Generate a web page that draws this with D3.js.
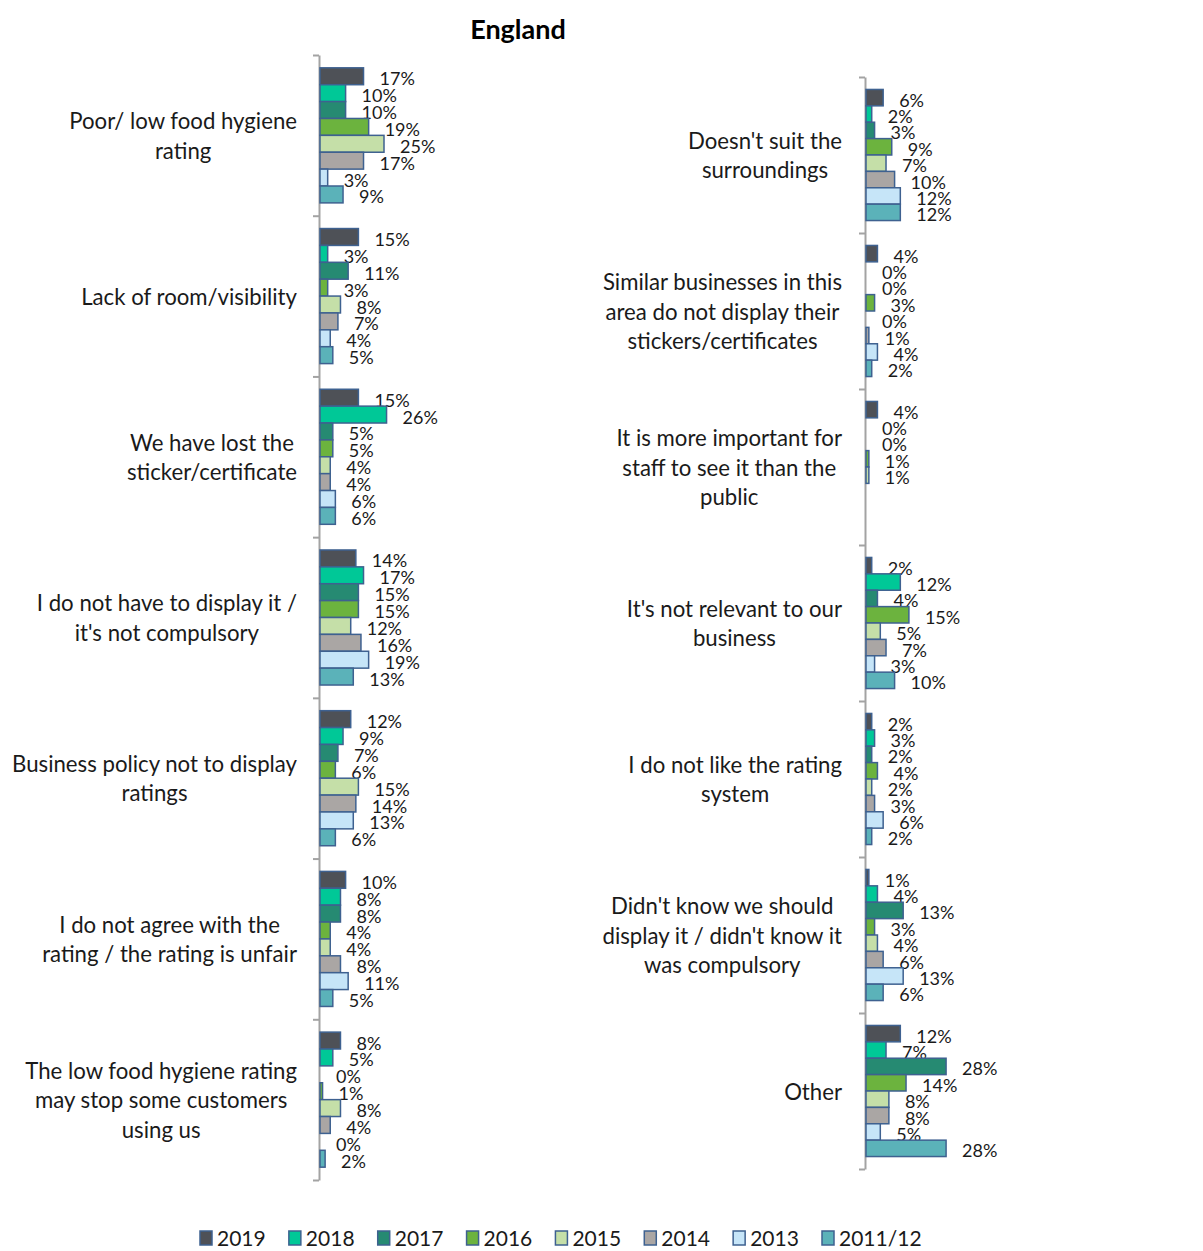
<!DOCTYPE html>
<html>
<head>
<meta charset="utf-8">
<script src="https://cdn.jsdelivr.net/npm/d3@7"></script>
<style>
  html, body { margin: 0; padding: 0; background: #ffffff; }
  svg { display: block; }
  text { font-family: Lato, "Open Sans", sans-serif; fill: #1a1a1a; }
</style>
</head>
<body>
<svg id="chart" width="1203" height="1251"></svg>
<script>
// Survey years (series), in drawing order within each category
const years = ["2019", "2018", "2017", "2016", "2015", "2014", "2013", "2011/12"];
const yearColors = ["#4e5157", "#00c897", "#268a72", "#6cb33e", "#c5dfa8", "#aaa6a4", "#c6e5f8", "#5bb2b9"];

// Left panel: category labels (one entry per wrapped line) and percentages per year
const leftCategories = [
  ["Poor/ low food hygiene", "rating"],
  ["Lack of room/visibility"],
  ["We have lost the", "sticker/certificate"],
  ["I do not have to display it /", "it's not compulsory"],
  ["Business policy not to display", "ratings"],
  ["I do not agree with the", "rating / the rating is unfair"],
  ["The low food hygiene rating", "may stop some customers", "using us"]
];
const leftValues = [
  [17, 10, 10, 19, 25, 17, 3, 9],
  [15, 3, 11, 3, 8, 7, 4, 5],
  [15, 26, 5, 5, 4, 4, 6, 6],
  [14, 17, 15, 15, 12, 16, 19, 13],
  [12, 9, 7, 6, 15, 14, 13, 6],
  [10, 8, 8, 4, 4, 8, 11, 5],
  [8, 5, 0, 1, 8, 4, 0, 2]
];

// Right panel: category labels and percentages per year (null = not asked that year)
const rightCategories = [
  ["Doesn't suit the", "surroundings"],
  ["Similar businesses in this", "area do not display their", "stickers/certificates"],
  ["It is more important for", "staff to see it than the", "public"],
  ["It's not relevant to our", "business"],
  ["I do not like the rating", "system"],
  ["Didn't know we should", "display it / didn't know it", "was compulsory"],
  ["Other"]
];
const rightValues = [
  [6, 2, 3, 9, 7, 10, 12, 12],
  [4, 0, 0, 3, 0, 1, 4, 2],
  [4, 0, 0, 1, 1, null, null, null],
  [2, 12, 4, 15, 5, 7, 3, 10],
  [2, 3, 2, 4, 2, 3, 6, 2],
  [1, 4, 13, 3, 4, 6, 13, 6],
  [12, 7, 28, 14, 8, 8, 5, 28]
];

const svg = d3.select("#chart");
const color = d3.scaleOrdinal().domain(years).range(yearColors);

// Title
svg.append("text")
  .attr("x", 518).attr("y", 28)
  .attr("text-anchor", "middle")
  .attr("dominant-baseline", "central")
  .style("font-size", "27px").style("font-weight", "bold").style("fill", "#000")
  .text("England");

function drawPanel(cfg) {
  const { categories, values, axisX, top, bottom, xWidth, labelRight } = cfg;
  const idx = d3.range(categories.length);
  const g = svg.append("g");

  const y = d3.scaleBand().domain(idx).range([top, bottom]).paddingInner(0).paddingOuter(0);
  const ySeries = d3.scaleBand().domain(years).range([0, y.bandwidth()]).paddingInner(0).paddingOuter(0.76);
  const x = d3.scaleLinear().domain([0, 30]).range([axisX + 1, axisX + 1 + xWidth]);

  // Category axis with ticks at band boundaries
  const yEdge = d3.scaleLinear().domain([0, categories.length]).range([top, bottom]);
  const axis = g.append("g")
    .attr("transform", `translate(${axisX},0)`)
    .call(d3.axisLeft(yEdge).tickValues(d3.range(categories.length + 1)).tickSize(6).tickSizeOuter(0).tickFormat(""));
  axis.selectAll("path, line").attr("stroke", "#a3a3a3").attr("stroke-width", 2);

  // Bars
  const cat = g.selectAll("g.cat").data(idx).join("g")
    .attr("class", "cat")
    .attr("transform", i => `translate(0,${y(i)})`);

  const rows = cat.selectAll("g.bar")
    .data(i => years.map((yr, j) => ({ yr, v: values[i][j] })).filter(d => d.v !== null))
    .join("g").attr("class", "bar");

  rows.filter(d => d.v > 0).append("rect")
    .attr("x", x(0))
    .attr("y", d => ySeries(d.yr))
    .attr("width", d => x(d.v) - x(0))
    .attr("height", ySeries.bandwidth())
    .attr("fill", d => color(d.yr))
    .attr("stroke", "#3e6190")
    .attr("stroke-width", 1.5);

  rows.append("text")
    .attr("x", d => x(d.v) + 16)
    .attr("y", d => ySeries(d.yr) + ySeries.bandwidth() / 2 + 2)
    .attr("dominant-baseline", "central")
    .style("font-size", "18px")
    .text(d => d.v + "%");

  // Wrapped category labels, lines centred on the widest line, block right-aligned
  const lineH = 29.5;
  idx.forEach(i => {
    const lines = categories[i];
    const lg = g.append("g");
    const texts = lg.selectAll("text").data(lines).join("text")
      .style("font-size", "22.2px")
      .attr("dominant-baseline", "central")
      .attr("text-anchor", "middle")
      .attr("y", (d, k) => y(i) + y.bandwidth() / 2 + (k - (lines.length - 1) / 2) * lineH)
      .text(d => d);
    let maxW = 0;
    texts.each(function () { maxW = Math.max(maxW, this.getComputedTextLength()); });
    texts.attr("x", labelRight - maxW / 2);
  });
}

drawPanel({ categories: leftCategories, values: leftValues, axisX: 319, top: 55, bottom: 1180, xWidth: 76.8, labelRight: 297 });
drawPanel({ categories: rightCategories, values: rightValues, axisX: 865, top: 77, bottom: 1169, xWidth: 85.8, labelRight: 842 });

// Legend
const legend = svg.append("g").attr("transform", "translate(0,1238)");
const legendX = d3.scalePoint().domain(years).range([200, 822]);
const item = legend.selectAll("g").data(years).join("g")
  .attr("transform", d => `translate(${legendX(d)},0)`);
item.append("rect")
  .attr("x", 0).attr("y", -7).attr("width", 12).attr("height", 14)
  .attr("fill", d => color(d))
  .attr("stroke", "#3e6190").attr("stroke-width", 1.5);
item.append("text")
  .attr("x", 17).attr("y", -1)
  .attr("dominant-baseline", "central")
  .style("font-size", "21px")
  .text(d => d);
</script>
</body>
</html>
